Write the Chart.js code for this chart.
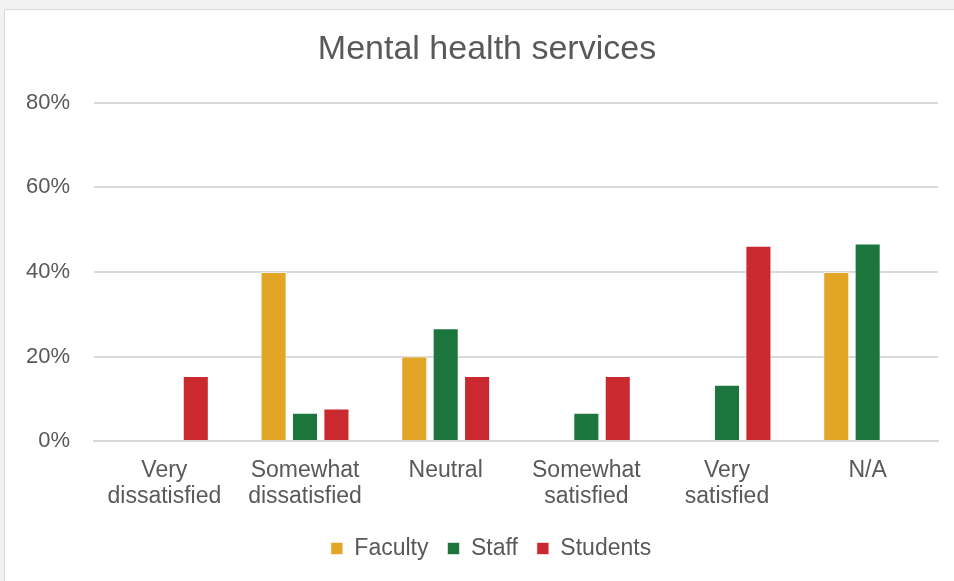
<!DOCTYPE html>
<html lang="en">
<head>
    <meta charset="UTF-8">
    <title>Mental health services</title>
    <script src="https://cdn.jsdelivr.net/npm/chart.js"></script>
    <style>
        html, body { margin: 0; padding: 0; background: #f2f2f2; overflow: hidden; }
        #box {
            position: absolute; left: 4px; top: 9px;
            width: 990px; height: 574px;
            background: #ffffff; border: 1px solid #d9d9d9;
        }
        #chart { display: block; }
    </style>
</head>
<body>
    <div id="box"><canvas id="chart" width="990" height="574"></canvas></div>

    <script>
        // categories and values (percent)
        const categories = [
            ['Very', 'dissatisfied'],
            ['Somewhat', 'dissatisfied'],
            'Neutral',
            ['Somewhat', 'satisfied'],
            ['Very', 'satisfied'],
            'N/A'
        ];
        const faculty  = [0, 40, 20, 0, 0, 40];
        const staff    = [0, 6.7, 26.7, 6.7, 13.3, 46.7];
        const students = [15.4, 7.7, 15.4, 15.4, 46.2, 0];
        const yTicks = [0, 20, 40, 60, 80];

        const textColor = '#595959';
        const font = 'Liberation Sans, Arial, sans-serif';

        function dataset(label, data, color) {
            return {
                label: label,
                data: data,
                backgroundColor: color,
                borderColor: 'rgba(255,255,255,0.6)',
                borderWidth: 1,
                barPercentage: 0.83,
                categoryPercentage: 0.67
            };
        }

        // title and legend sit a bit right of the plot centre in the original
        const nudgeBlocks = {
            id: 'nudgeBlocks',
            afterLayout(chart) {
                chart.titleBlock.left += 17;
                chart.titleBlock.right += 17;
                chart.legend.left += 21;
                chart.legend.right += 21;
            }
        };

        new Chart(document.getElementById('chart'), {
            type: 'bar',
            data: {
                labels: categories,
                datasets: [
                    dataset('Faculty', faculty, '#E3A526'),
                    dataset('Staff', staff, '#1C753C'),
                    dataset('Students', students, '#C9292F')
                ]
            },
            options: {
                responsive: false,
                animation: false,
                layout: { padding: { left: -3, right: 57, top: 14, bottom: 14 } },
                plugins: {
                    title: {
                        display: true,
                        text: 'Mental health services',
                        color: textColor,
                        font: { family: font, size: 34, weight: 'normal' },
                        padding: { top: 5, bottom: 33 }
                    },
                    legend: {
                        position: 'bottom',
                        labels: {
                            color: textColor,
                            font: { family: font, size: 23 },
                            boxWidth: 12,
                            boxHeight: 12,
                            padding: 19
                        }
                    },
                    tooltip: { enabled: false }
                },
                scales: {
                    x: {
                        grid: { display: false },
                        border: { color: '#d9d9d9', width: 2 },
                        ticks: {
                            color: textColor,
                            font: { family: font, size: 23, lineHeight: 1.15 },
                            maxRotation: 0,
                            padding: 8
                        }
                    },
                    y: {
                        min: 0,
                        max: 80,
                        afterBuildTicks: axis => { axis.ticks = yTicks.map(v => ({ value: v })); },
                        grid: { color: '#d9d9d9', lineWidth: 2, drawTicks: false },
                        border: { display: false },
                        ticks: {
                            color: textColor,
                            font: { family: font, size: 22 },
                            padding: 24,
                            callback: v => v + '%'
                        }
                    }
                }
            },
            plugins: [nudgeBlocks]
        });
    </script>
</body>
</html>
